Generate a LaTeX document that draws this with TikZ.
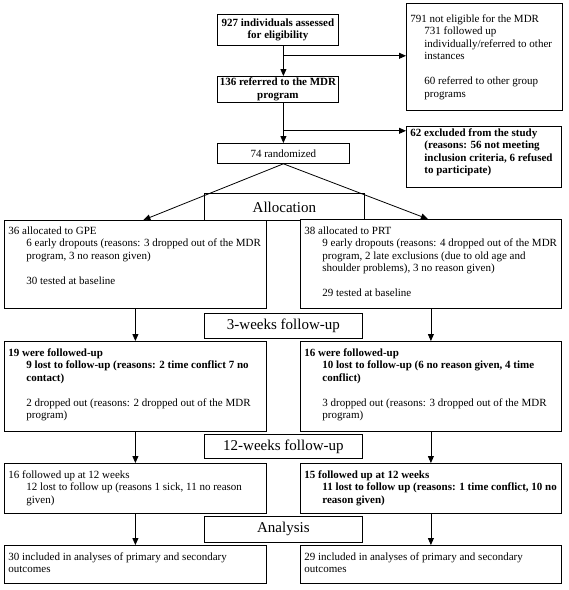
\documentclass[tikz,border=0pt]{standalone}
\usepackage{fontspec}
\setmainfont{Liberation Serif}
\usetikzlibrary{arrows.meta}
\newcommand\bxin[4]{\parbox[b][#2][t]{#1}{\vspace*{#3}\strut#4}}
\newcommand\cind{\hspace*{18pt}}
\newcommand\sind{\hspace*{14pt}}
\begin{document}
\begin{tikzpicture}[x=1pt,y=-1pt,
  bx/.style={draw, line width=0.8pt, fill=white, inner xsep=4pt, inner ysep=0pt, anchor=north west, font=\fontsize{11}{12.5}\selectfont},
  cb/.style={draw, line width=0.8pt, fill=white, inner sep=0pt, anchor=north west, align=center, font=\fontsize{11}{12.5}\selectfont},
  hd/.style={draw, line width=0.8pt, fill=white, inner sep=0pt, anchor=north west, font=\fontsize{15}{17}\selectfont},
  arr/.style={line width=0.8pt, -{Triangle[length=7pt,width=6pt]}}]
\useasboundingbox (0,0) rectangle (569,590);

% top column
\node[cb, minimum width=121pt, minimum height=31pt, font=\fontsize{11}{12.5}\selectfont\bfseries] (a) at (217,14) {927 individuals assessed\\for eligibility};
\node[cb, minimum width=121pt, minimum height=26pt, font=\fontsize{11}{12.5}\selectfont\bfseries] (b) at (217,76) {136 referred to the MDR\\program};
\node[cb, minimum width=132pt, minimum height=20pt] (d) at (217,143) {74 randomized};

\node[bx] (c) at (406,3) {\bxin{148pt}{107pt}{10pt}{791 not eligible for the MDR\\
\sind 731 followed up\\
\sind individually/referred to other\\
\sind instances\\[12.5pt]
\sind 60 referred to other group\\
\sind programs}};

\node[bx, font=\fontsize{11}{12.5}\selectfont\bfseries] (e) at (406,126) {\bxin{147pt}{61pt}{1pt}{62 excluded from the study\\
\sind (reasons: 56 not meeting\\
\sind inclusion criteria, 6 refused\\
\sind to participate)}};

% stage headers
\node[hd, minimum width=160pt, minimum height=27pt] (al) at (204,193) {Allocation};
\node[hd, minimum width=158pt, minimum height=25pt] (w3) at (204,313) {3-weeks follow-up};
\node[hd, minimum width=158pt, minimum height=24pt] (w12) at (204,434) {12-weeks follow-up};
\node[hd, minimum width=158pt, minimum height=26pt] (an) at (204,516) {Analysis};

% left column
\node[bx] (f) at (4,220) {\bxin{254pt}{88pt}{5pt}{36 allocated to GPE\\
\cind 6 early dropouts (reasons: 3 dropped out of the MDR\\
\cind program, 3 no reason given)\\[12.5pt]
\cind 30 tested at baseline}};

\node[bx] (h) at (4,341) {\bxin{254pt}{90pt}{6pt}{{\bfseries 19 were followed-up\\
\cind 9 lost to follow-up (reasons: 2 time conflict 7 no\\
\cind contact)}\\[12.5pt]
\cind 2 dropped out (reasons: 2 dropped out of the MDR\\
\cind program)}};

\node[bx] (j) at (4,463) {\bxin{254pt}{50pt}{6pt}{16 followed up at 12 weeks\\
\cind 12 lost to follow up (reasons 1 sick, 11 no reason\\
\cind given)}};

\node[bx] (k) at (4,545) {\bxin{254pt}{38pt}{6pt}{30 included in analyses of primary and secondary\\
outcomes}};

% right column
\node[bx] (g) at (300,219) {\bxin{253pt}{89pt}{6pt}{38 allocated to PRT\\
\cind 9 early dropouts (reasons: 4 dropped out of the MDR\\
\cind program, 2 late exclusions (due to old age and\\
\cind shoulder problems), 3 no reason given)\\[12.5pt]
\cind 29 tested at baseline}};

\node[bx] (i) at (300,341) {\bxin{253pt}{90pt}{6pt}{{\bfseries 16 were followed-up\\
\cind 10 lost to follow-up (6 no reason given, 4 time\\
\cind conflict)}\\[12.5pt]
\cind 3 dropped out (reasons: 3 dropped out of the MDR\\
\cind program)}};

\node[bx, font=\fontsize{11}{12.5}\selectfont\bfseries] (l) at (300,463) {\bxin{253pt}{50pt}{6pt}{15 followed up at 12 weeks\\
\cind 11 lost to follow up (reasons: 1 time conflict, 10 no\\
\cind reason given)}};

\node[bx] (m) at (300,545) {\bxin{253pt}{38pt}{6pt}{29 included in analyses of primary and secondary\\
outcomes}};

% connectors
\coordinate (j1) at (a.south -| d.north);
\coordinate (j2) at (b.south -| d.north);
\coordinate (k1) at ([yshift=-10pt]j1);
\coordinate (k2) at ([yshift=-28pt]j2);
\draw[arr] (j1) -- (b.north -| d.north);
\draw[arr] (k1) -- (k1 -| c.west);
\draw[arr] (j2) -- (d.north);
\draw[arr] (k2) -- (k2 -| e.west);
\draw[arr] (d.south) -- ([xshift=8pt]f.north);
\draw[arr] (d.south) -- ([xshift=-3pt]g.north);
\draw[arr] (f.south) -- (f.south |- h.north);
\draw[arr] (g.south) -- (g.south |- i.north);
\draw[arr] (h.south) -- (h.south |- j.north);
\draw[arr] (i.south) -- (i.south |- l.north);
\draw[arr] (j.south) -- (j.south |- k.north);
\draw[arr] (l.south) -- (l.south |- m.north);
\end{tikzpicture}
\end{document}
